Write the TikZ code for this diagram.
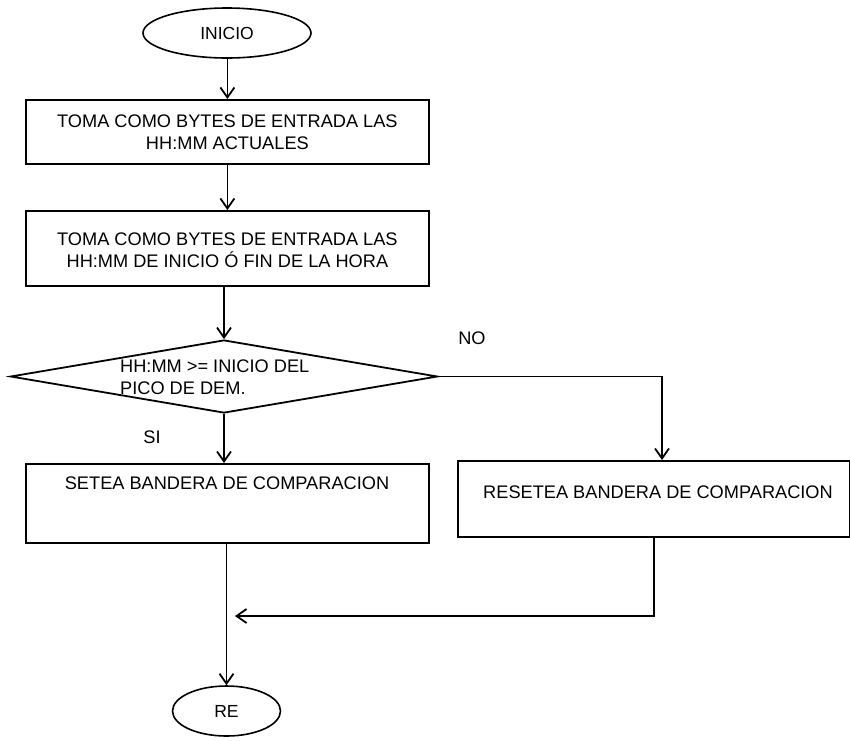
\documentclass[tikz,border=0pt]{standalone}
\usepackage{fontspec}
\setmainfont{Liberation Sans}
\usetikzlibrary{shapes.geometric,arrows.meta}
\begin{document}
\begin{tikzpicture}[x=1pt,y=-1pt,
  txt/.style={font=\fontsize{18.2}{22}\selectfont, align=center, inner sep=0pt},
  procbox/.style={draw, line width=1.8pt, inner sep=0pt, anchor=north west},
  term/.style={draw, ellipse, line width=1.6pt, inner sep=0pt, font=\fontsize{17.5}{22}\selectfont},
  decis/.style={draw, diamond, line width=1.8pt, inner sep=0pt},
  arr/.style={line width=1.6pt, -{Straight Barb[length=10pt,width=14pt,line width=1.8pt]}},
  ln/.style={line width=1.6pt}]
\useasboundingbox[fill=white] (0,0) rectangle (850,740);

% start terminal
\node[term, minimum width=168pt, minimum height=50pt] (inicio) at (227,33) {INICIO};

% process boxes
\node[procbox, minimum width=403pt, minimum height=64pt] (b1) at (25,99) {};
\node[txt] (b1t) at (b1.center) {TOMA COMO BYTES DE ENTRADA LAS\\HH:MM ACTUALES};

\node[procbox, minimum width=403pt, minimum height=75pt] (b2) at (25,210) {};
\node[txt] (b2t) at ([yshift=-2pt]b2.center) {TOMA COMO BYTES DE ENTRADA LAS\\HH:MM DE INICIO Ó FIN DE LA HORA};

% decision
\node[decis, minimum width=427pt, minimum height=73pt, shape aspect=5.85] (dia) at (224,376.5) {};
\node[txt, align=left, anchor=west] (diat) at (120,377) {HH:MM >= INICIO DEL\\PICO DE DEM.};

\node[txt] (si) at (152,437) {SI};
\node[txt] (no) at (472,338) {NO};

% branch boxes
\node[procbox, minimum width=403pt, minimum height=79pt] (b3) at (25,463) {};
\node[txt] (b3t) at (227,483) {SETEA BANDERA DE COMPARACION};

\node[procbox, minimum width=392pt, minimum height=76pt] (b4) at (457,460) {};
\node[txt] (b4t) at (658,492) {RESETEA BANDERA DE COMPARACION};

% end terminal
\node[term, minimum width=108pt, minimum height=50pt] (fin) at (226.5,711) {RE};

% connectors
\coordinate (nocorner) at (662,376.5);
\coordinate (retcorner) at (654,616);
\coordinate (join) at (235,616);

\draw[arr] (inicio.south -| b1.north) -- (b1.north);
\draw[arr] (b1.south) -- (b2.north);
\draw[arr] (b2.south -| dia.north) -- (dia.north);
\draw[arr] (dia.south) -- (dia.south |- b3.north);
\draw[arr] (dia.east) -- (nocorner) -- (nocorner |- b4.north);
\draw[arr] (b3.south -| fin.north) -- (fin.north);
\draw[arr] (b4.south -| retcorner) -- (retcorner) -- (join);
\end{tikzpicture}
\end{document}
